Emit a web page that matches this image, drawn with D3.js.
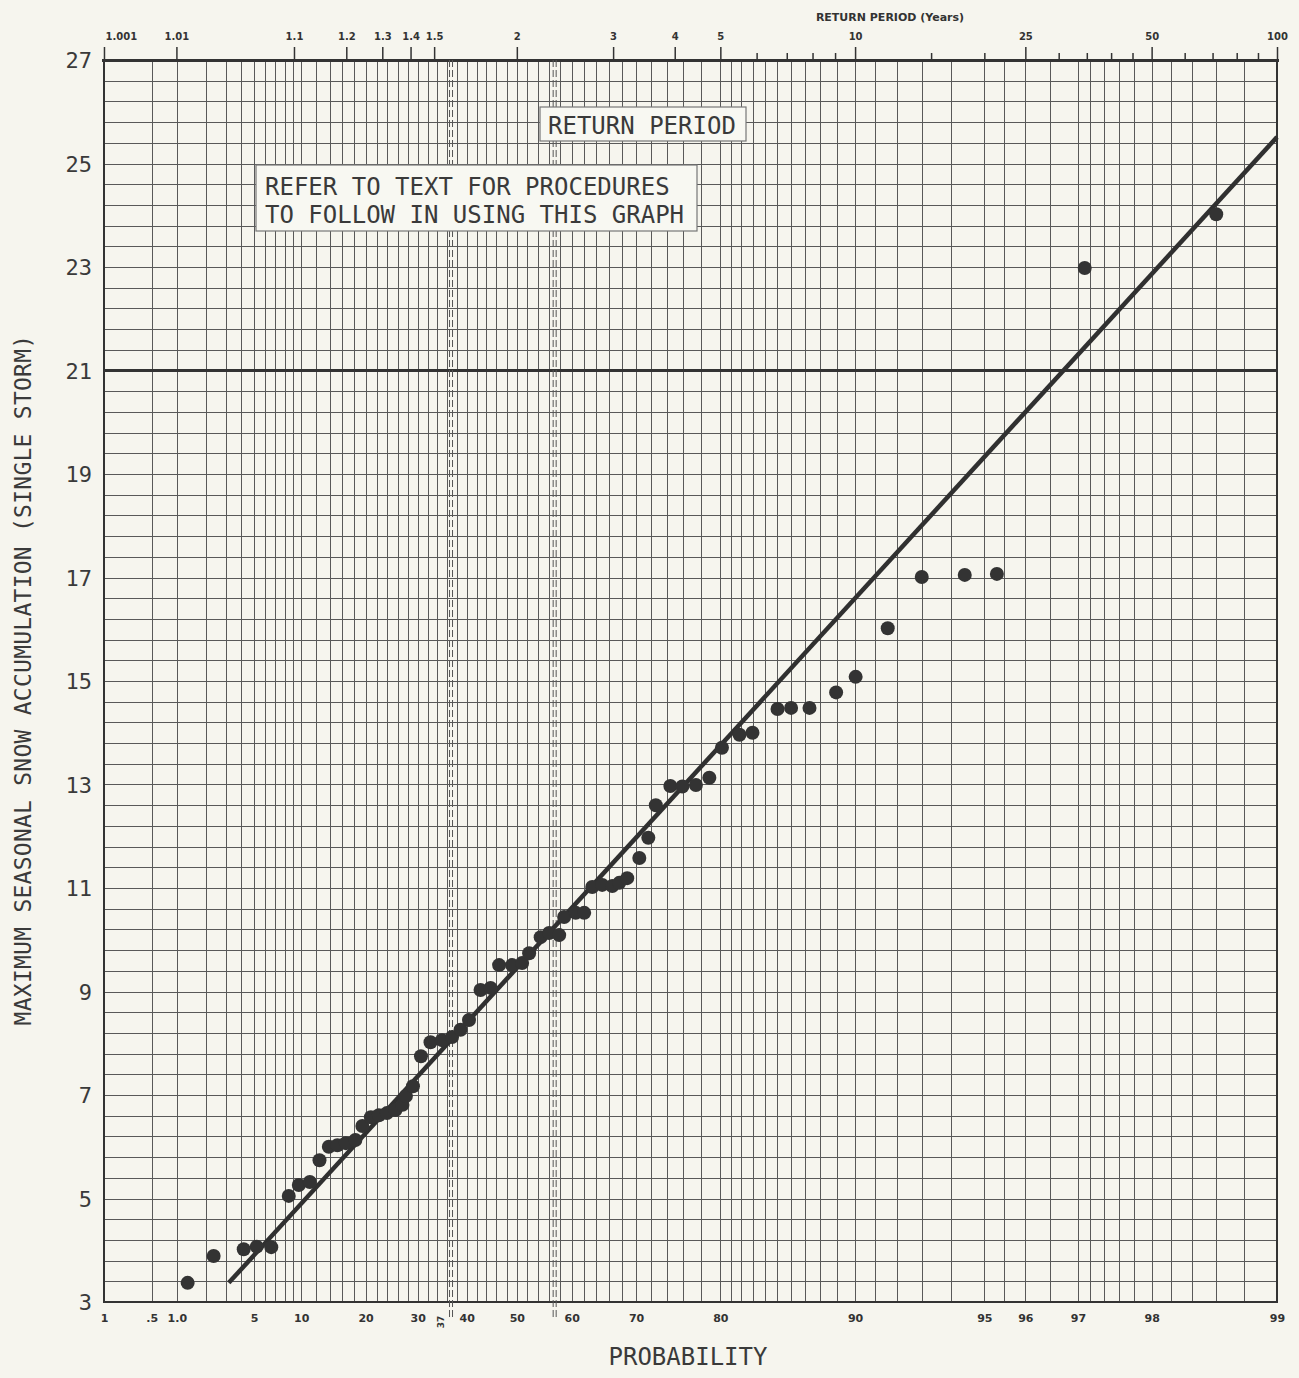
<!DOCTYPE html>
<html><head><meta charset="utf-8">
<script src="https://cdn.jsdelivr.net/npm/d3@7"></script>
<style>body{margin:0;background:#f6f5ee}svg{display:block}</style>
</head><body>
<svg id="chart" width="1299" height="1378"></svg>
<script>
// ---- data (probability in %, snow accumulation) ----
const probability = [1.31,2.35,4.19,5.23,6.58,8.47,9.69,11.13,12.49,13.88,15.21,16.59,18.21,19.43,20.96,22.44,23.96,25.59,26.97,27.66,29.05,30.66,32.59,34.94,37.0,38.74,40.47,42.81,44.83,46.53,49.08,51.02,52.35,54.5,56.05,57.84,58.71,60.69,62.11,63.42,65.0,66.54,67.59,68.74,70.44,71.66,72.64,74.47,75.9,77.44,78.88,80.16,81.83,82.98,85.02,86.03,87.3,88.95,90.03,91.59,92.99,94.44,95.33,97.11,98.6];
const snow = [3.37,3.89,4.02,4.07,4.06,5.05,5.26,5.32,5.74,6.0,6.03,6.07,6.13,6.4,6.57,6.61,6.65,6.71,6.81,6.98,7.17,7.75,8.02,8.06,8.12,8.26,8.45,9.03,9.07,9.51,9.51,9.55,9.74,10.05,10.13,10.09,10.44,10.52,10.52,11.02,11.06,11.04,11.1,11.19,11.58,11.97,12.6,12.97,12.96,12.99,13.13,13.71,13.96,14.0,14.46,14.48,14.48,14.78,15.08,16.02,17.01,17.05,17.07,22.98,24.02];
const fitProbability = [3.18, 99.0];
const fitSnow = [3.37, 25.51];

const yTickValues = [3,5,7,9,11,13,15,17,19,21,23,25,27];
const probTickValues = [0.1,0.5,1,5,10,20,30,40,50,60,70,80,90,95,96,97,98,99];
const probTickLabels = ["1",".5","1.0","5","10","20","30","40","50","60","70","80","90","95","96","97","98","99"];
const returnTickValues = [1.001,1.01,1.1,1.2,1.3,1.4,1.5,2,3,4,5,10,25,50,100];
const returnTickLabels = ["1.001","1.01","1.1","1.2","1.3","1.4","1.5","2","3","4","5","10","25","50","100"];
const returnMinorValues = [6,7,8,9,15,20,30,35,40,45,60,70,80,90];
const gridProbabilities = [0.1,0.5].concat(d3.range(1,10,1), d3.range(10,80,2), d3.range(80,95,1), [95,95.5,96,96.5], d3.range(97,99.01,0.2));
const gridSnow = d3.range(3, 27.001, 0.4);
const modeProbability = 100*Math.exp(-1);          // reduced variate 0
const meanProbability = 100*Math.exp(-Math.exp(-0.5772)); // Euler constant

// ---- scales ----
const gumbel = p => -Math.log(-Math.log(p/100));
const L = 104, R = 1277, T = 60, B = 1302;
const x = d3.scaleLinear().domain([gumbel(0.1), gumbel(99)]).range([L, R]);
const xp = p => x(gumbel(p));
const y = d3.scaleLinear().domain([3, 27]).range([B, T]);

const svg = d3.select("#chart");
svg.append("rect").attr("width",1299).attr("height",1378).attr("fill","#f6f5ee");
const ink = "#3a3a3a";
const mono = "'DejaVu Sans Mono', monospace";

// ---- grid ----
const grid = svg.append("g").attr("shape-rendering","crispEdges");
grid.selectAll("line.v").data(gridProbabilities).join("line")
  .attr("x1", d=>Math.round(xp(d))+0.5).attr("x2", d=>Math.round(xp(d))+0.5)
  .attr("y1", T).attr("y2", B).attr("stroke","#595959").attr("stroke-width",1);
grid.selectAll("line.h").data(gridSnow).join("line")
  .attr("x1", L).attr("x2", R)
  .attr("y1", d=>Math.round(y(d))+0.5).attr("y2", d=>Math.round(y(d))+0.5)
  .attr("stroke","#595959").attr("stroke-width",1);
// heavy lines
grid.append("line").attr("x1",L).attr("x2",R).attr("y1",y(21)).attr("y2",y(21)).attr("stroke","#333").attr("stroke-width",2.5);
grid.append("line").attr("x1",L-2).attr("x2",R+2).attr("y1",y(27)).attr("y2",y(27)).attr("stroke","#333").attr("stroke-width",3);
grid.append("rect").attr("x",L).attr("y",T).attr("width",R-L).attr("height",B-T).attr("fill","none").attr("stroke","#333").attr("stroke-width",2);

// dashed mode / mean lines (double)
[modeProbability, meanProbability].forEach(p => {
  [-1.5, 1.5].forEach(o => {
    svg.append("line").attr("x1", xp(p)+o).attr("x2", xp(p)+o).attr("y1", T).attr("y2", B+16)
      .attr("stroke","#555").attr("stroke-width",1).attr("stroke-dasharray","7,3");
  });
});

// ---- axes ----
const yAxis = d3.axisLeft(y).tickValues(yTickValues).tickSize(0).tickPadding(0).tickFormat(d3.format("d"));
const gy = svg.append("g").attr("transform",`translate(${L-12},0)`).call(yAxis);
gy.select(".domain").remove();
gy.selectAll("text").attr("font-family", mono).attr("font-size", 22).attr("fill", ink).attr("dy","0.36em");

const xAxis = d3.axisBottom(x).tickValues(probTickValues.map(gumbel)).tickSize(0).tickPadding(0)
  .tickFormat((d,i)=>probTickLabels[i]);
const gx = svg.append("g").attr("transform",`translate(0,${B+12})`).call(xAxis);
gx.select(".domain").remove();
gx.selectAll("text").attr("font-family","'DejaVu Sans', sans-serif").attr("font-weight","bold")
  .attr("font-size",11).attr("fill","#333");

svg.append("text").attr("transform",`translate(${xp(modeProbability)-7},${B+20}) rotate(-90)`)
  .attr("text-anchor","middle").attr("font-family","'DejaVu Sans', sans-serif").attr("font-size",9)
  .attr("font-weight","bold").attr("fill","#333").text("37");

// top return-period axis
const topAxis = d3.axisTop(x).tickValues(returnTickValues.map(t=>gumbel(100*(1-1/t)))).tickSize(13).tickPadding(7)
  .tickFormat((d,i)=>returnTickLabels[i]);
const gt = svg.append("g").attr("transform",`translate(0,${T})`).call(topAxis);
gt.select(".domain").remove();
gt.selectAll("line").attr("stroke","#333").attr("stroke-width",1.5);
gt.selectAll("text").attr("font-family","'DejaVu Sans', sans-serif").attr("font-weight","bold")
  .attr("font-size",10).attr("fill","#333");
gt.select(".tick text").attr("text-anchor","start").attr("dx",1);
const topMinor = d3.axisTop(x).tickValues(returnMinorValues.map(t=>gumbel(100*(1-1/t)))).tickSize(7).tickFormat("");
const gtm = svg.append("g").attr("transform",`translate(0,${T})`).call(topMinor);
gtm.select(".domain").remove();
gtm.selectAll("line").attr("stroke","#333").attr("stroke-width",1.5);
svg.append("text").attr("x",890).attr("y",21).attr("text-anchor","middle")
  .attr("font-family","'DejaVu Sans', sans-serif").attr("font-weight","bold").attr("font-size",11)
  .attr("fill","#333").text("RETURN PERIOD (Years)");

// ---- titles ----
svg.append("text").attr("x",688).attr("y",1365).attr("text-anchor","middle")
  .attr("font-family",mono).attr("font-size",24).attr("fill",ink).text("PROBABILITY");
svg.append("text").attr("transform","translate(31,680) rotate(-90)").attr("text-anchor","middle")
  .attr("font-family",mono).attr("font-size",23).attr("letter-spacing",0.25).attr("fill",ink)
  .text("MAXIMUM SEASONAL SNOW ACCUMULATION (SINGLE STORM)");

// ---- note boxes ----
svg.append("rect").attr("x",256).attr("y",165).attr("width",441).attr("height",66)
  .attr("fill","#f8f8f2").attr("stroke","#777").attr("stroke-width",1.2);
svg.append("text").attr("x",265).attr("y",195).attr("font-family",mono).attr("font-size",24).attr("fill",ink)
  .text("REFER TO TEXT FOR PROCEDURES");
svg.append("text").attr("x",265).attr("y",223).attr("font-family",mono).attr("font-size",24).attr("fill",ink)
  .text("TO FOLLOW IN USING THIS GRAPH");
svg.append("rect").attr("x",540).attr("y",107).attr("width",206).attr("height",34)
  .attr("fill","#f8f8f2").attr("stroke","#777").attr("stroke-width",1.2);
svg.append("text").attr("x",548).attr("y",134).attr("font-family",mono).attr("font-size",24).attr("fill",ink)
  .text("RETURN PERIOD");

// ---- fitted line ----
const line = d3.line().x(d=>xp(d[0])).y(d=>y(d[1]));
svg.append("path").datum(fitProbability.map((p,i)=>[p,fitSnow[i]])).attr("d",line)
  .attr("stroke","#303030").attr("stroke-width",4.5).attr("fill","none");

// ---- points ----
svg.append("g").selectAll("circle").data(probability.map((p,i)=>[p,snow[i]])).join("circle")
  .attr("cx",d=>xp(d[0])).attr("cy",d=>y(d[1])).attr("r",7).attr("fill","#333");
</script>
</body></html>
